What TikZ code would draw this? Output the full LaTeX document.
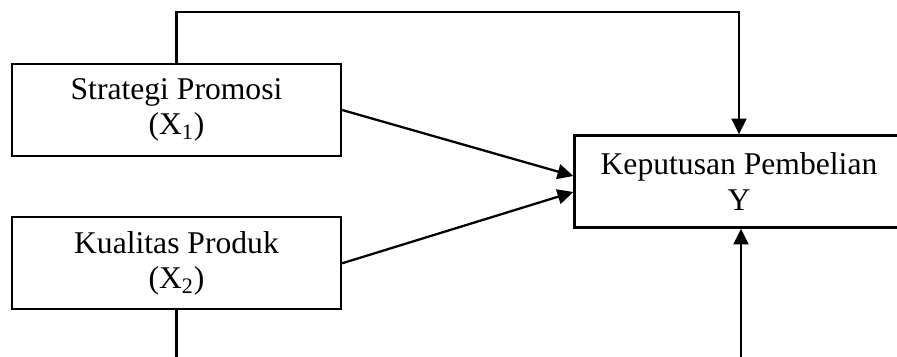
\documentclass[tikz,border=0pt]{standalone}
\usepackage{fontspec}
\setmainfont{Liberation Serif}
\usetikzlibrary{arrows.meta,positioning,calc}

\begin{document}
\begin{tikzpicture}[
  var/.style={draw, line width=1.3pt, minimum width=6.58cm,
              minimum height=1.84cm, align=center,
              font=\fontsize{18}{20}\selectfont},
  arr/.style={-{Triangle[length=9pt,width=8.5pt]}, line width=1.3pt}
]
  \useasboundingbox (0,0) rectangle (17.94,-7.12);

  \node[var]                      (sp) at (3.53,-2.2)  {Strategi Promosi\\(X\textsubscript{1})};
  \node[var, below=1.18cm of sp]  (kp)                 {Kualitas Produk\\(X\textsubscript{2})};
  \node[var]                      (kb) at (14.78,-3.63) {Keputusan Pembelian\\Y};

  \coordinate (atas)  at (0,-0.24);
  \coordinate (bawah) at (0,-7.4);

  \draw[arr] (sp.east) -- ([yshift=0.11cm]kb.west);
  \draw[arr] (kp.east) -- ([yshift=-0.21cm]kb.west);
  \draw[arr] (sp.north) -- (sp.north |- atas) -| (kb.north);
  \draw[arr] (kp.south) -- (kp.south |- bawah) -| ([xshift=0.04cm]kb.south);
\end{tikzpicture}
\end{document}
